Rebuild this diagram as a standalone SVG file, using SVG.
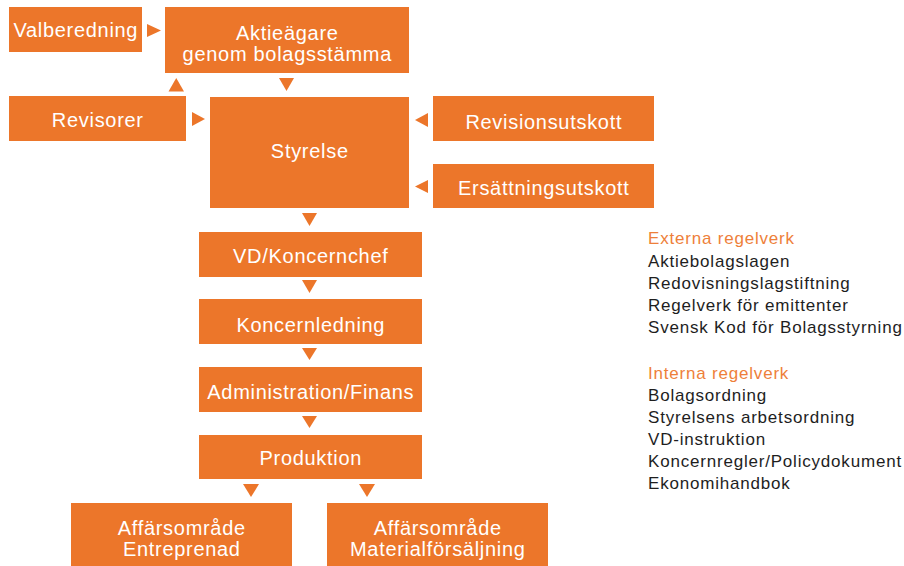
<svg xmlns="http://www.w3.org/2000/svg" width="904" height="566" viewBox="0 0 904 566">
<style>
.box{fill:#EC762A}
.t{font-family:"Liberation Sans",Arial,sans-serif;font-size:20px;fill:#fff;text-anchor:middle;letter-spacing:0.7px}
.tri{fill:#EC762A}
.h{font-family:"Liberation Sans",Arial,sans-serif;font-size:17px;fill:#EE7F3A;letter-spacing:0.8px}
.l{font-family:"Liberation Sans",Arial,sans-serif;font-size:17px;fill:#1e1e1e;letter-spacing:0.8px}
</style>
<rect width="904" height="566" fill="#fff"/>
<g id="valberedning"><rect class="box" x="9" y="7" width="133" height="45"/><text class="t" x="75.8" y="37">Valberedning</text></g>
<g id="aktieagare"><rect class="box" x="165" y="7" width="244" height="66"/><text class="t" x="287.3" y="40">Aktieägare</text><text class="t" x="287.3" y="61">genom bolagsstämma</text></g>
<g id="revisorer"><rect class="box" x="9" y="96" width="177" height="45"/><text class="t" x="97.8" y="127">Revisorer</text></g>
<g id="styrelse"><rect class="box" x="210" y="97" width="199" height="111"/><text class="t" x="309.8" y="158">Styrelse</text></g>
<g id="revisionsutskott"><rect class="box" x="433" y="96" width="221" height="45"/><text class="t" x="543.8" y="129">Revisionsutskott</text></g>
<g id="ersattningsutskott"><rect class="box" x="433" y="164" width="221" height="44"/><text class="t" x="543.8" y="195">Ersättningsutskott</text></g>
<g id="vd"><rect class="box" x="199" y="232" width="223" height="45"/><text class="t" x="310.8" y="263">VD/Koncernchef</text></g>
<g id="koncernledning"><rect class="box" x="199" y="299" width="223" height="45"/><text class="t" x="310.8" y="332">Koncernledning</text></g>
<g id="administration"><rect class="box" x="199" y="367" width="223" height="45"/><text class="t" x="310.8" y="399">Administration/Finans</text></g>
<g id="produktion"><rect class="box" x="199" y="435" width="223" height="44"/><text class="t" x="310.8" y="465">Produktion</text></g>
<g id="entreprenad"><rect class="box" x="71" y="503" width="221" height="63"/><text class="t" x="181.8" y="535">Affärsområde</text><text class="t" x="181.8" y="556">Entreprenad</text></g>
<g id="materialforsaljning"><rect class="box" x="327" y="503" width="221" height="63"/><text class="t" x="437.8" y="535">Affärsområde</text><text class="t" x="437.8" y="556">Materialförsäljning</text></g>
<g id="connectors">
<polygon class="tri" points="147,24 161,30.5 147,37"/>
<polygon class="tri" points="168.5,91.5 184,91.5 176.25,78"/>
<polygon class="tri" points="279,78 294,78 286.5,91"/>
<polygon class="tri" points="192,112 205,119 192,126"/>
<polygon class="tri" points="428,113 415,120 428,127"/>
<polygon class="tri" points="428,180 415,186.5 428,193"/>
<polygon class="tri" points="302,213 317,213 309.5,226"/>
<polygon class="tri" points="302,280 317,280 309.5,293"/>
<polygon class="tri" points="302,348 317,348 309.5,360"/>
<polygon class="tri" points="302,416 317,416 309.5,428"/>
<polygon class="tri" points="243,484 259,484 251,497"/>
<polygon class="tri" points="359,484 375,484 367,497"/>
</g>
<g id="regelverk">
<text class="h" x="648" y="244">Externa regelverk</text>
<text class="l" x="648" y="266.5">Aktiebolagslagen</text>
<text class="l" x="648" y="288.5">Redovisningslagstiftning</text>
<text class="l" x="648" y="310.5">Regelverk för emittenter</text>
<text class="l" x="648" y="333">Svensk Kod för Bolagsstyrning</text>
<text class="h" x="648" y="379">Interna regelverk</text>
<text class="l" x="648" y="400.5">Bolagsordning</text>
<text class="l" x="648" y="422.5">Styrelsens arbetsordning</text>
<text class="l" x="648" y="444.5">VD-instruktion</text>
<text class="l" x="648" y="467">Koncernregler/Policydokument</text>
<text class="l" x="648" y="489">Ekonomihandbok</text>
</g>
</svg>
